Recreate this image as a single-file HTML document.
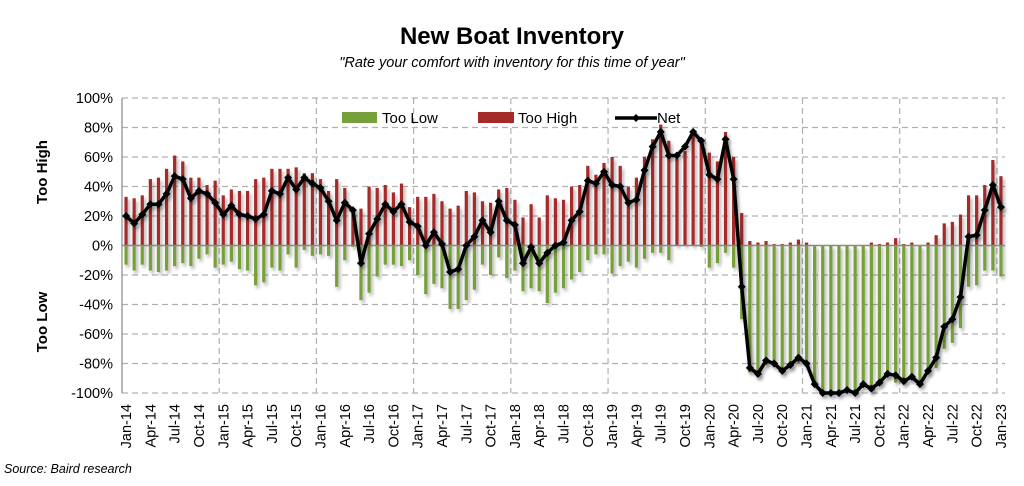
<!DOCTYPE html>
<html><head><meta charset="utf-8"><style>
body{margin:0;background:#fff;width:1024px;height:481px;overflow:hidden;font-family:"Liberation Sans",Arial,sans-serif}
</style></head><body>
<svg id="chart" width="1024" height="481" viewBox="0 0 1024 481">
<defs><filter id="sh" x="-5%" y="-5%" width="110%" height="115%"><feDropShadow dx="2" dy="3" stdDeviation="1.5" flood-color="#000" flood-opacity="0.3"/></filter></defs>
<text x="512" y="44" text-anchor="middle" font-size="24" font-weight="bold" fill="#000">New Boat Inventory</text>
<text x="512" y="67" text-anchor="middle" font-size="14.5" font-style="italic" fill="#000">"Rate your comfort with inventory for this time of year"</text>
<text transform="translate(47,172) rotate(-90)" text-anchor="middle" font-size="15" font-weight="bold">Too High</text>
<text transform="translate(47,322) rotate(-90)" text-anchor="middle" font-size="15" font-weight="bold">Too Low</text>
<text x="4" y="473" font-size="12.5" font-style="italic">Source: Baird research</text>
<g id="grid"></g><g id="bars" filter="url(#sh)"></g><g id="axes"></g><g id="line" filter="url(#sh)"></g><g id="legend"></g>
</svg>
<script>
const months=["Jan","Feb","Mar","Apr","May","Jun","Jul","Aug","Sep","Oct","Nov","Dec"];
const yTicks=[100,80,60,40,20,0,-20,-40,-60,-80,-100];
const net=[20,15,21,28,28,35,47,45,32,37,35,29,21,27,21,20,18,21,37,35,46,38,46,42,39,30,17,29,24,-12,8,18,28,23,28,16,13,0,9,1,-18,-16,0,6,17,9,30,17,14,-12,-1,-12,-5,0,2,17,23,44,42,50,41,40,29,31,51,67,77,61,61,67,77,71,48,45,72,45,-28,-83,-87,-78,-80,-85,-81,-76,-80,-94,-100,-100,-100,-98,-100,-94,-97,-93,-87,-88,-92,-89,-94,-85,-76,-55,-50,-35,6,7,24,41,26];
const tooHigh=[33,32,34,45,46,52,61,57,46,46,41,44,34,38,37,37,45,46,52,52,52,53,49,49,45,37,45,39,25,25,40,39,41,36,42,26,33,33,35,30,25,27,37,36,30,29,38,39,31,19,28,19,34,32,31,40,41,54,48,56,60,54,40,46,60,72,82,71,59,64,76,72,63,57,77,60,22,3,2,3,1,1,2,4,2,0,0,0,0,0,0,0,2,1,2,5,1,2,0,2,7,15,16,21,34,34,41,58,47];
const tooLow=net.map((n,i)=>Math.min(0,n-tooHigh[i]));
const NS="http://www.w3.org/2000/svg";
const L=122,R=1005,T=98,B=393;
const N=net.length,step=(R-L)/N;
const xS=i=>L+step*(i+0.5);
const yS=v=>T+(100-v)/200*(B-T);
function mk(tag,at,parent){const e=document.createElementNS(NS,tag);for(const k in at)e.setAttribute(k,at[k]);parent.appendChild(e);return e;}
const grid=document.getElementById('grid'),axes=document.getElementById('axes'),bars=document.getElementById('bars'),line=document.getElementById('line'),leg=document.getElementById('legend');
yTicks.forEach(v=>{
 if(v!==0){const g=mk('line',{x1:L,x2:R,y1:yS(v),y2:yS(v),stroke:'#b0b0b0','stroke-dasharray':'6,4','stroke-width':1.2},grid);
 
 }
 const t=mk('text',{x:113,y:yS(v)+5,'text-anchor':'end','font-size':14.5,fill:'#000'},axes);t.textContent=v+'%';
 
 
});
for(let i=12;i<=N;i+=12){const x=L+step*i;const g=mk('line',{x1:x,x2:x,y1:T,y2:B,stroke:'#b0b0b0','stroke-dasharray':'6,4','stroke-width':1.2},grid);
 
 }
for(let i=0;i<N;i++){
 const x=xS(i);
 if(tooHigh[i]>0){const b=mk('rect',{x:x-1.6,y:yS(tooHigh[i]),width:3.2,height:yS(0)-yS(tooHigh[i]),fill:'#a52a2a'},bars);
 
 }
 if(tooLow[i]<0){const b=mk('rect',{x:x-1.6,y:yS(0),width:3.2,height:yS(tooLow[i])-yS(0),fill:'#77a03a'},bars);
 
 }
 if(i%3===0){const yr=14+Math.floor(i/12);const t=mk('text',{transform:`translate(${x+5},404) rotate(-90)`,'text-anchor':'end','font-size':14.5,fill:'#000'},axes);
 t.textContent=months[i%12]+'-'+yr;
 
 }
}
const z=mk('line',{x1:L,x2:R,y1:yS(0),y2:yS(0),stroke:'#888','stroke-width':1.5},axes);


const ax=mk('line',{x1:L,x2:L,y1:T,y2:B,stroke:'#888','stroke-width':1.2},axes);


const p=mk('polyline',{points:net.map((v,i)=>xS(i)+','+yS(v)).join(' '),fill:'none',stroke:'#000','stroke-width':3.5,'stroke-linejoin':'round'},line);


net.forEach((v,i)=>{const x=xS(i),y=yS(v);const d=mk('polygon',{points:`${x},${y-4} ${x+4},${y} ${x},${y+4} ${x-4},${y}`,fill:'#000'},line);
 
 });
const s1=mk('rect',{x:342,y:112,width:35,height:11,fill:'#77a03a'},leg);


const t1=mk('text',{x:382,y:123,'font-size':15},leg);t1.textContent='Too Low';


const s2=mk('rect',{x:478,y:112,width:36,height:11,fill:'#a52a2a'},leg);


const t2=mk('text',{x:518,y:123,'font-size':15},leg);t2.textContent='Too High';


const s3=mk('line',{x1:615,x2:657,y1:118,y2:118,stroke:'#000','stroke-width':3.5},leg);


const s4=mk('polygon',{points:'636,114 640,118 636,122 632,118',fill:'#000'},leg);


const t3=mk('text',{x:657,y:123,'font-size':15},leg);t3.textContent='Net';


</script>
</body></html>
